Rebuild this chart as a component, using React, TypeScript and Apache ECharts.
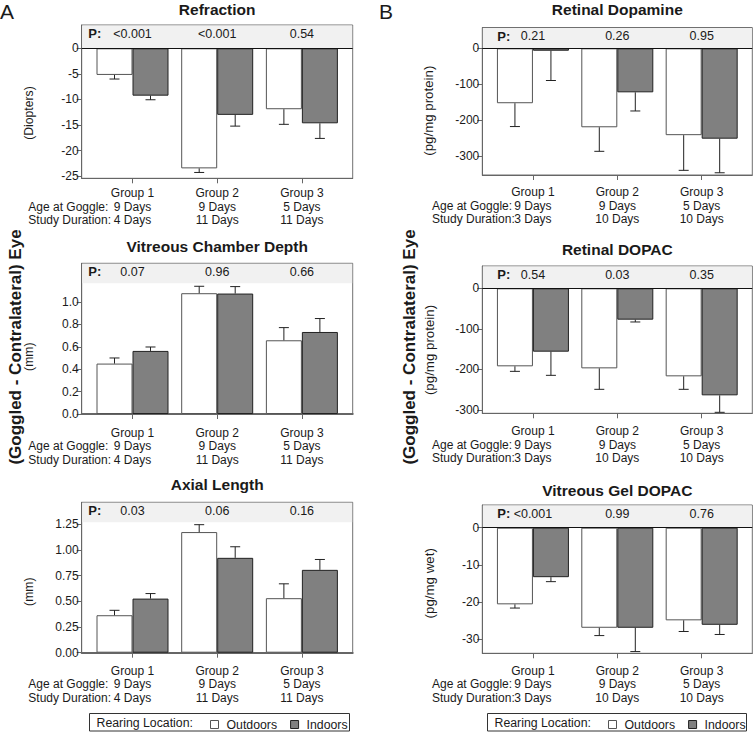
import React, { useEffect, useRef } from 'react';
import * as echarts from 'echarts';

const FONT = '"Liberation Sans", Arial, Helvetica, sans-serif';

// ---- shared categories ----
const groups = [1, 2, 3];
const groupNames = ['Group 1', 'Group 2', 'Group 3'];
const ageA = ['9 Days', '9 Days', '5 Days'];
const durA = ['4 Days', '11 Days', '11 Days'];
const ageB = ['9 Days', '9 Days', '5 Days'];
const durB = ['3 Days', '10 Days', '10 Days'];
const legendNames = ['Outdoors', 'Indoors'];

// ---- A: Refraction ----
const refrOut = [-5.2, -23.45, -11.9];
const refrOutErr = [0.8, 0.8, 2.95];
const refrIn = [-9.25, -13.0, -14.65];
const refrInErr = [0.8, 2.2, 2.95];
const refrP = ['<0.001', '<0.001', '0.54'];
const refrTicks = [0, -5, -10, -15, -20, -25];

// ---- A: Vitreous Chamber Depth ----
const vcdOut = [0.45, 1.078, 0.658];
const vcdOutErr = [0.05, 0.062, 0.113];
const vcdIn = [0.563, 1.075, 0.732];
const vcdInErr = [0.035, 0.062, 0.12];
const vcdP = ['0.07', '0.96', '0.66'];
const vcdTicks = [0, 0.2, 0.4, 0.6, 0.8, 1.0];

// ---- A: Axial Length ----
const alOut = [0.365, 1.175, 0.531];
const alOutErr = [0.048, 0.072, 0.14];
const alIn = [0.527, 0.924, 0.807];
const alInErr = [0.049, 0.108, 0.101];
const alP = ['0.03', '0.06', '0.16'];
const alTicks = [0, 0.25, 0.5, 0.75, 1.0, 1.25];

// ---- B: Retinal Dopamine ----
const daOut = [-153, -220, -242];
const daOutErr = [65, 67, 98];
const daIn = [-6.7, -122.6, -251.8];
const daInErr = [83, 52, 95];
const daP = ['0.21', '0.26', '0.95'];
const daTicks = [0, -100, -200, -300];

// ---- B: Retinal DOPAC ----
const rdOut = [-192.3, -197.3, -217];
const rdOutErr = [12.4, 51.7, 32];
const rdIn = [-156.2, -77.3, -263.8];
const rdInErr = [58.3, 5.7, 41.9];
const rdP = ['0.54', '0.03', '0.35'];
const rdTicks = [0, -100, -200, -300];

// ---- B: Vitreous Gel DOPAC ----
const vgOut = [-20.6, -26.9, -24.9];
const vgOutErr = [1.0, 2.1, 3.0];
const vgIn = [-13.3, -26.9, -26.1];
const vgInErr = [1.2, 6.4, 2.6];
const vgP = ['<0.001', '0.99', '0.76'];
const vgTicks = [0, -10, -20, -30];

const X_MIN = 0.4;
const X_MAX = 3.6;
const BAR_W = 36;

const panels = [
  { title: 'Refraction', unit: '(Diopters)', out: refrOut, outErr: refrOutErr, inn: refrIn, innErr: refrInErr, p: refrP, ticks: refrTicks, min: -25.39, max: 4.55, dec: 0, age: ageA, dur: durA,
    left: 81.7, top: 25, width: 271, height: 153.3, axisW: 1, margin: 8, unitX: 29, unitY: 113, titleY: 9, pOff: 6.6, rowX: 28.3, unitSize: 12.2 },
  { title: 'Vitreous Chamber Depth', unit: '(mm)', out: vcdOut, outErr: vcdOutErr, inn: vcdIn, innErr: vcdInErr, p: vcdP, ticks: vcdTicks, min: 0, max: 1.345, dec: 1, age: ageA, dur: durA,
    left: 81.7, top: 263.3, width: 271, height: 150.7, axisW: 2, margin: 12, unitX: 29, unitY: 356.7, titleY: 246.7, pOff: 6.6, rowX: 28.3, unitSize: 12.2 },
  { title: 'Axial Length', unit: '(mm)', out: alOut, outErr: alOutErr, inn: alIn, innErr: alInErr, p: alP, ticks: alTicks, min: 0, max: 1.465, dec: 2, age: ageA, dur: durA,
    left: 81.7, top: 502.3, width: 271, height: 150.4, axisW: 2, margin: 11.5, unitX: 28.5, unitY: 591.7, titleY: 484.5, pOff: 6.6, rowX: 28.3, unitSize: 12.2 },
  { title: 'Retinal Dopamine', unit: '(pg/mg protein)', out: daOut, outErr: daOutErr, inn: daIn, innErr: daInErr, p: daP, ticks: daTicks, min: -353, max: 58, dec: 0, age: ageB, dur: durB,
    left: 482.3, top: 27.5, width: 270, height: 147.5, axisW: 1, margin: 10.5, unitX: 428.7, unitY: 110.7, titleY: 9, pOff: 15, rowX: 432, unitSize: 13.3 },
  { title: 'Retinal DOPAC', unit: '(pg/mg protein)', out: rdOut, outErr: rdOutErr, inn: rdIn, innErr: rdInErr, p: rdP, ticks: rdTicks, min: -308.1, max: 55, dec: 0, age: ageB, dur: durB,
    left: 482.3, top: 266, width: 270, height: 147.3, axisW: 1, margin: 11.2, unitX: 429.5, unitY: 350, titleY: 249.3, pOff: 15, rowX: 432, unitSize: 13.3 },
  { title: 'Vitreous Gel DOPAC', unit: '(pg/mg wet)', out: vgOut, outErr: vgOutErr, inn: vgIn, innErr: vgInErr, p: vgP, ticks: vgTicks, min: -33.76, max: 6.1, dec: 0, age: ageB, dur: durB,
    left: 482.3, top: 505, width: 270, height: 148.3, axisW: 1, margin: 10.6, unitX: 429, unitY: 583.3, titleY: 490, pOff: 15, rowX: 432, unitSize: 13.3 },
];

const LINE_H = 13.5;

function txt(x: number, y: number, text: string, font: string, align = 'left', extra: any = {}) {
  return {
    type: 'text',
    x,
    y,
    silent: true,
    ...extra,
    style: {
      text,
      font,
      fill: '#1a1a1a',
      align,
      verticalAlign: 'middle',
      textAlign: align,
      textVerticalAlign: 'middle',
    },
  };
}

function buildOption() {
  const grid: any[] = [];
  const xAxis: any[] = [];
  const yAxis: any[] = [];
  const series: any[] = [];
  const graphic: any[] = [];

  panels.forEach((p, i) => {
    const negative = p.min < 0;
    grid.push({
      left: p.left, top: p.top, width: p.width, height: p.height,
      show: true, borderColor: '#707070', borderWidth: 1, backgroundColor: 'transparent',
      containLabel: false, outerBoundsMode: 'none',
    });
    xAxis.push({
      gridIndex: i, type: 'value', min: X_MIN, max: X_MAX, position: 'bottom',
      axisLine: { show: true, onZero: false, lineStyle: { color: '#666', width: p.axisW } },
      axisTick: { show: true, customValues: groups, length: 5, lineStyle: { color: '#666' } },
      axisLabel: {
        customValues: groups, margin: p.margin, lineHeight: LINE_H, fontSize: 12, color: '#1a1a1a', fontFamily: FONT,
        formatter: (v: number) => {
          const k = Math.round(v) - 1;
          return [groupNames[k], p.age[k], p.dur[k]].join('\n');
        },
      },
      splitLine: { show: false },
    });
    yAxis.push({
      gridIndex: i, type: 'value', min: p.min, max: p.max,
      axisLine: { show: true, lineStyle: { color: '#666' } },
      axisTick: { show: true, customValues: p.ticks, length: 5, lineStyle: { color: '#666' } },
      axisLabel: {
        customValues: p.ticks, margin: 3, fontSize: 12, color: '#1a1a1a', fontFamily: FONT,
        formatter: (v: number) => Number(v).toFixed(p.dec),
      },
      splitLine: { show: false },
    });

    // P-value band and labels
    series.push({
      type: 'custom', name: 'pvals' + i, xAxisIndex: i, yAxisIndex: i, z: 1, silent: true,
      encode: { x: 0, y: 1 },
      data: groups.map((g, k) => [g, 0, k]),
      renderItem: (params: any, api: any) => {
        const cs = params.coordSys;
        const g = api.value(0);
        const k = api.value(2);
        const cx = api.coord([g, 0])[0];
        const zeroY = api.coord([g, 0])[1];
        const bandBottom = negative ? zeroY : cs.y + 20;
        const ty = cs.y + 8.5;
        const children: any[] = [];
        if (k === 0) {
          children.push({ type: 'rect', shape: { x: cs.x + 0.5, y: cs.y + 0.5, width: cs.width - 1, height: bandBottom - cs.y - 0.5 }, style: { fill: '#f1f1f1' } });
          children.push({ type: 'text', style: { text: 'P:', x: cs.x + p.pOff, y: ty, font: 'bold 13px ' + FONT, fill: '#1a1a1a', align: 'left', verticalAlign: 'middle', textAlign: 'left', textVerticalAlign: 'middle' } });
        }
        children.push({ type: 'text', style: { text: p.p[k], x: cx, y: ty, font: '12.5px ' + FONT, fill: '#1a1a1a', align: 'center', verticalAlign: 'middle', textAlign: 'center', textVerticalAlign: 'middle' } });
        return { type: 'group', children };
      },
    });

    series.push({
      type: 'bar', name: legendNames[0], xAxisIndex: i, yAxisIndex: i, z: 3, silent: true,
      data: groups.map((g, k) => [g, p.out[k]]),
      barWidth: BAR_W, barGap: '0%',
      itemStyle: { color: '#ffffff', borderColor: '#555555', borderWidth: 1 },
    });
    series.push({
      type: 'bar', name: legendNames[1], xAxisIndex: i, yAxisIndex: i, z: 3, silent: true,
      data: groups.map((g, k) => [g, p.inn[k]]),
      barWidth: BAR_W, barGap: '0%',
      itemStyle: { color: '#808080', borderColor: '#222222', borderWidth: 1 },
      markLine: negative ? {
        silent: true, symbol: ['none', 'none'], label: { show: false },
        lineStyle: { color: '#111', width: 1, type: 'solid' },
        data: [{ yAxis: 0 }],
      } : undefined,
    });

    // error bars
    series.push({
      type: 'custom', name: 'err' + i, xAxisIndex: i, yAxisIndex: i, z: 5, silent: true,
      encode: { x: 0, y: 1 },
      data: [
        ...groups.map((g, k) => [g, p.out[k], p.outErr[k], -1]),
        ...groups.map((g, k) => [g, p.inn[k], p.innErr[k], 1]),
      ],
      renderItem: (params: any, api: any) => {
        const g = api.value(0);
        const v = api.value(1);
        const e = api.value(2);
        const side = api.value(3);
        const p0 = api.coord([g, v]);
        const p1 = api.coord([g, v + (v >= 0 ? e : -e)]);
        const x = p0[0] + side * BAR_W / 2;
        const st = { stroke: '#222', lineWidth: 1 };
        return {
          type: 'group',
          children: [
            { type: 'line', shape: { x1: x, y1: p0[1], x2: x, y2: p1[1] }, style: st },
            { type: 'line', shape: { x1: x - 5, y1: p1[1], x2: x + 5, y2: p1[1] }, style: st },
          ],
        };
      },
    });

    // titles, unit names, row labels
    graphic.push(txt(p.left + p.width / 2, p.titleY, p.title, 'bold 15.5px ' + FONT, 'center'));
    graphic.push(txt(p.unitX, p.unitY, p.unit, p.unitSize + 'px ' + FONT, 'center', { rotation: Math.PI / 2 }));
    const base = p.top + p.height + p.margin + LINE_H / 2;
    graphic.push(txt(p.rowX, base + LINE_H, 'Age at Goggle:', '12px ' + FONT, 'left'));
    graphic.push(txt(p.rowX, base + 2 * LINE_H, 'Study Duration:', '12px ' + FONT, 'left'));
  });

  // panel letters and shared y labels
  graphic.push(txt(0, 11, 'A', '21px ' + FONT, 'left'));
  graphic.push(txt(379, 11, 'B', '21px ' + FONT, 'left'));
  graphic.push(txt(15.5, 347, '(Goggled - Contralateral) Eye', 'bold 17px ' + FONT, 'center', { rotation: Math.PI / 2 }));
  graphic.push(txt(409.5, 347, '(Goggled - Contralateral) Eye', 'bold 17px ' + FONT, 'center', { rotation: Math.PI / 2 }));

  // legend boxes
  const boxes = [{ x: 89, w: 260 }, { x: 487, w: 259 }];
  boxes.forEach((b) => {
    graphic.push({ type: 'rect', silent: true, shape: { x: b.x + 0.5, y: 713.5, width: b.w, height: 17.5 }, style: { fill: '#fff', stroke: '#333', lineWidth: 1 }, z: 0 });
    graphic.push({ ...txt(b.x + 7.5, 722.5, 'Rearing Location:', '12.3px ' + FONT, 'left'), z: 1 });
  });

  const legend = boxes.map((b) => ({
    left: b.x + 121, top: 718.5, orient: 'horizontal', padding: 0,
    itemWidth: 8, itemHeight: 8, itemGap: 13, icon: 'rect', selectedMode: false,
    itemStyle: { borderWidth: 1 },
    textStyle: { fontSize: 12.3, color: '#1a1a1a', fontFamily: FONT, padding: [0, 0, 0, 3] },
    data: legendNames,
    z: 5,
  }));

  return {
    animation: false,
    backgroundColor: '#ffffff',
    textStyle: { fontFamily: FONT },
    grid, xAxis, yAxis, series, graphic, legend,
  };
}

export default function App() {
  const ref = useRef<HTMLDivElement>(null);
  useEffect(() => {
    if (!ref.current) return;
    const chart = echarts.init(ref.current, undefined, { renderer: 'svg' });
    chart.setOption(buildOption() as any);
    return () => chart.dispose();
  }, []);
  return (
    <div
      ref={ref}
      style={{ position: 'absolute', left: 0, top: 0, width: 754, height: 733, background: '#fff' }}
    />
  );
}
